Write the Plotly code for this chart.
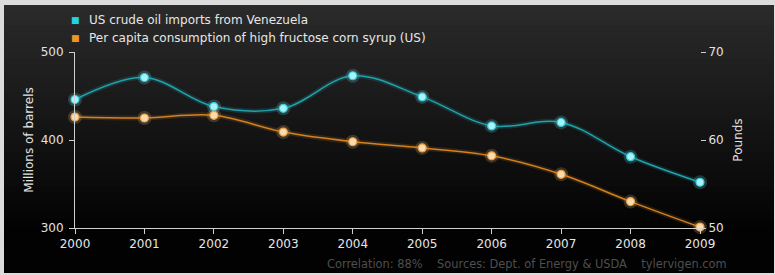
import plotly.graph_objects as go

years = [2000, 2001, 2002, 2003, 2004, 2005, 2006, 2007, 2008, 2009]
oil_imports = [446, 471, 438, 436, 473, 449, 416, 420, 381, 352]
hfcs_pounds = [62.6, 62.5, 62.8, 60.9, 59.8, 59.1, 58.2, 56.1, 53.0, 50.1]
left_ticks = [300, 400, 500]
right_ticks = [50, 60, 70]
x_ticks = years

name_oil = "US crude oil imports from Venezuela"
name_hfcs = "Per capita consumption of high fructose corn syrup (US)"
footer = "Correlation: 88%\u00a0\u00a0\u00a0 Sources: Dept. of Energy & USDA\u00a0\u00a0\u00a0 tylervigen.com"

W, H = 775, 275
ML, MR, MT, MB = 75, 75, 52, 47
PW, PH = W - ML - MR, H - MT - MB

def px_x(p):
    return (p - ML) / PW

def px_y(p):
    return (H - MB - p) / PH

FONT = "DejaVu Sans"
OIL_LINE, OIL_KEY = "#1fa3ad", "#22d3e8"
HF_LINE, HF_KEY = "#d5811f", "#f0951e"
fig = go.Figure()

# glow layers
fig.add_trace(go.Scatter(x=years, y=oil_imports, mode="lines+markers", line=dict(color="rgba(40,200,215,0.15)", width=5, shape="spline"),
                         marker=dict(size=14, color="rgba(120,235,245,0.2)"), hoverinfo="skip", showlegend=False, cliponaxis=False))
fig.add_trace(go.Scatter(x=years, y=hfcs_pounds, yaxis="y2", mode="lines+markers", line=dict(color="rgba(230,140,40,0.15)", width=5, shape="spline"),
                         marker=dict(size=14, color="rgba(250,200,130,0.2)"), hoverinfo="skip", showlegend=False, cliponaxis=False))

fig.add_trace(go.Scatter(x=years, y=oil_imports, name=name_oil, mode="lines+markers",
                         line=dict(color=OIL_LINE, width=1.5, shape="spline"),
                         marker=dict(size=8, color="#a6f4fa", line=dict(color="#3cc8d6", width=1.2)),
                         showlegend=False, cliponaxis=False))
fig.add_trace(go.Scatter(x=years, y=hfcs_pounds, name=name_hfcs, yaxis="y2", mode="lines+markers",
                         line=dict(color=HF_LINE, width=1.5, shape="spline"),
                         marker=dict(size=8, color="#fbdcae", line=dict(color="#e8a04a", width=1.2)),
                         showlegend=False, cliponaxis=False))

# dark gradient panel (overlapping bands to avoid seams)
shapes = []
x0, x1 = px_x(4), px_x(774)
top, bot = 5, 273
n = 40
band = (bot - top) / n
for i in range(n):
    t = i / (n - 1)
    g = int(round(42 - 40 * min(1.0, t / 0.85)))
    ya = top + band * i
    yb = min(bot, ya + band + 2)
    shapes.append(dict(type="rect", xref="paper", yref="paper", x0=x0, x1=x1, y0=px_y(yb), y1=px_y(ya),
                       fillcolor=f"rgb({g},{g},{g})", line=dict(width=0), layer="below"))

# legend drawn as annotations (square key + label)
annotations = []
for label, key, ypx in [(name_oil, OIL_KEY, 20), (name_hfcs, HF_KEY, 38)]:
    annotations.append(dict(text="■", xref="paper", yref="paper", x=px_x(75.5), y=px_y(ypx),
                            xanchor="center", yanchor="middle", showarrow=False,
                            font=dict(size=9, color=key, family=FONT)))
    annotations.append(dict(text=label, xref="paper", yref="paper", x=px_x(87), y=px_y(ypx),
                            xanchor="left", yanchor="middle", showarrow=False,
                            font=dict(size=12, color="#e6e6e6", family=FONT)))
annotations.append(dict(text=footer, xref="paper", yref="paper", x=px_x(729), y=px_y(264),
                        xanchor="right", yanchor="middle", showarrow=False,
                        font=dict(size=11.4, color="#4e4e4e", family=FONT)))

axis_col = "#cfcfcf"
fig.update_layout(
    width=W, height=H,
    margin=dict(l=ML, r=MR, t=MT, b=MB),
    paper_bgcolor="#dcdcdc",
    plot_bgcolor="rgba(0,0,0,0)",
    font=dict(family=FONT, color="#e2e2e2", size=12),
    shapes=shapes,
    showlegend=False,
    xaxis=dict(range=[2000, 2009], tickvals=x_ticks, ticktext=[str(v) for v in x_ticks],
               showgrid=False, zeroline=False, showline=True, linecolor=axis_col, linewidth=1,
               ticks="outside", ticklen=5, tickcolor=axis_col, tickfont=dict(size=12, color="#e6e6e6")),
    yaxis=dict(range=[300, 500], tickvals=left_ticks, showgrid=False, zeroline=False,
               showline=True, linecolor=axis_col, linewidth=1, ticks="outside", ticklen=5, tickcolor=axis_col,
               ticklabelstandoff=3, tickfont=dict(size=12, color="#e2e2e2"),
               title=dict(text="Millions of barrels", font=dict(size=12, color="#e2e2e2"), standoff=4)),
    yaxis2=dict(range=[50, 70], tickvals=right_ticks, overlaying="y", side="right", showgrid=False,
                zeroline=False, showline=False, ticks="outside", ticklen=5, tickcolor=axis_col,
                tickfont=dict(size=12, color="#e2e2e2"),
                title=dict(text="Pounds", font=dict(size=12, color="#e2e2e2"), standoff=10)),
    annotations=annotations,
)

fig.write_html("out.html", config={"displayModeBar": False},
               post_script="document.body.style.margin='0';document.body.style.padding='0';")
